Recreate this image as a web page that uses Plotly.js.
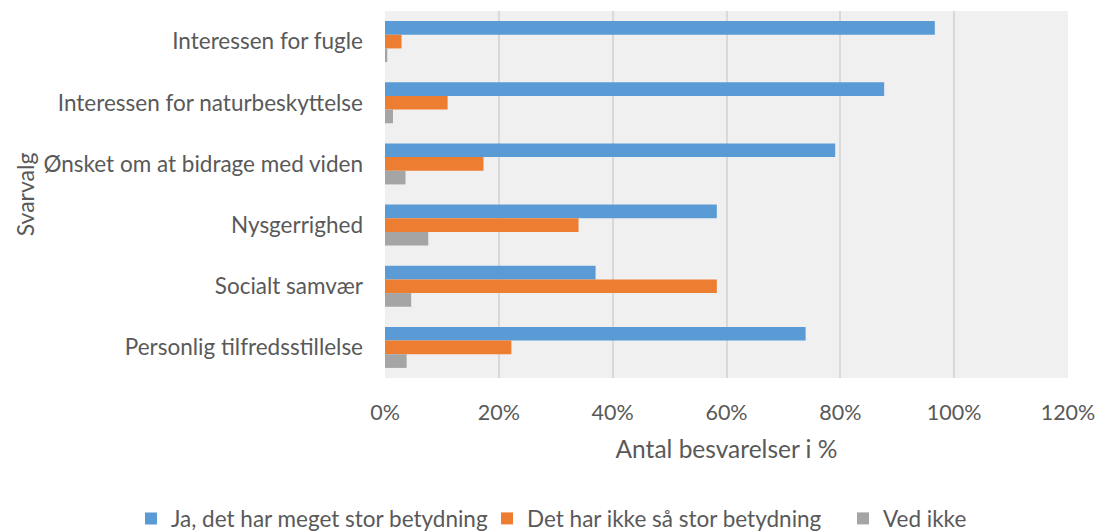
<!DOCTYPE html>
<html>
<head>
<meta charset="utf-8">
<script src="https://cdn.plot.ly/plotly-3.0.1.min.js"></script>
<style>html,body{margin:0;padding:0;background:#fff;}#chart{width:1099px;height:532px;}</style>
</head>
<body>
<div id="chart"></div>
<script>
const categories = ['Interessen for fugle','Interessen for naturbeskyttelse','Ønsket om at bidrage med viden','Nysgerrighed','Socialt samvær','Personlig tilfredsstillelse'];
const seriesNames = ['Ja, det har meget stor betydning','Det har ikke så stor betydning','Ved ikke'];
const jaValues = [0.966, 0.877, 0.791, 0.583, 0.370, 0.739];
const ikkeValues = [0.029, 0.110, 0.173, 0.340, 0.583, 0.222];
const vedIkkeValues = [0.004, 0.014, 0.036, 0.076, 0.046, 0.038];
const xTickValues = [0, 0.2, 0.4, 0.6, 0.8, 1.0, 1.2];

const colors = ['#5b9bd5', '#ed7d31', '#a5a5a5'];
const allValues = [jaValues, ikkeValues, vedIkkeValues];
const FONT = 'Lato, "Open Sans", sans-serif';

const traces = allValues.map((vals, i) => ({
  type: 'bar',
  orientation: 'h',
  name: seriesNames[i],
  y: categories,
  x: vals,
  marker: {color: colors[i]},
  hoverinfo: 'x+y'
}));

const layout = {
  width: 1099, height: 532,
  margin: {l: 385, r: 31, t: 11, b: 154, autoexpand: false},
  paper_bgcolor: '#ffffff',
  plot_bgcolor: '#f0f0f0',
  barmode: 'group',
  bargap: 0.33,
  bargroupgap: 0,
  font: {family: FONT, color: '#595959', size: 22},
  showlegend: true,
  legend: {
    orientation: 'h',
    x: -0.3719, xanchor: 'left', y: -0.325, yanchor: 'top',
    font: {family: FONT, size: 22.5, color: '#595959'},
    traceorder: 'normal', itemwidth: 30,
    entrywidthmode: 'pixels', entrywidth: 311
  },
  xaxis: {
    range: [0, 1.2],
    tickvals: xTickValues,
    tickformat: '.0%',
    showgrid: true, gridcolor: '#d9d9d9', gridwidth: 2,
    zeroline: false, showline: false,
    ticks: '', ticklabelstandoff: 19,
    tickfont: {family: FONT, size: 21.5, color: '#595959'},
    title: {text: 'Antal besvarelser i %', font: {family: FONT, size: 24.5, color: '#595959'}, standoff: 17},
    fixedrange: true, automargin: false
  },
  yaxis: {
    type: 'category',
    categoryorder: 'array', categoryarray: categories,
    autorange: 'reversed',
    showgrid: false, zeroline: false, showline: false,
    ticks: '', ticklabelstandoff: 21,
    tickfont: {family: FONT, size: 22.5, color: '#595959'},
    title: {text: 'Svarvalg', font: {family: FONT, size: 23, color: '#595959'}, standoff: 2},
    fixedrange: true, automargin: false
  }
};

Plotly.newPlot('chart', traces, layout, {displayModeBar: false, staticPlot: true});
</script>
</body>
</html>
